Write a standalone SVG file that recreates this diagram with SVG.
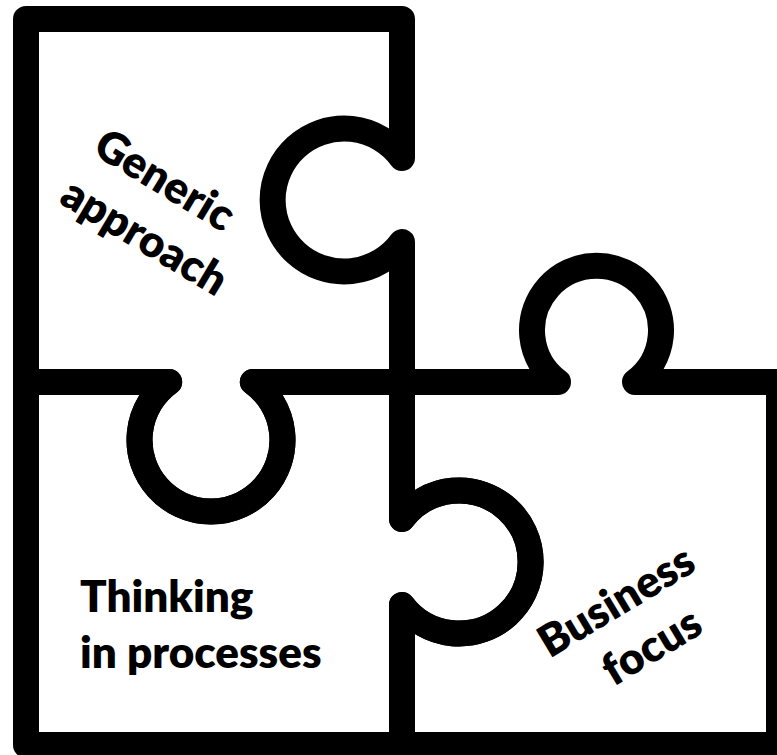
<svg xmlns="http://www.w3.org/2000/svg" width="777" height="755" viewBox="0 0 777 755">
<style>
.piece{fill:none;stroke:#000;stroke-width:26;stroke-linejoin:round;stroke-linecap:round}
.lbl{font-family:Lato,"Liberation Sans",sans-serif;font-weight:800;font-size:44px;fill:#000}
</style>
<rect width="777" height="755" fill="#fff"/>
<g id="connectors"></g>
<g id="piece-top-left">
<path class="piece" d="M26,19 H402 V158 A71.5,71.5 0 1 0 402,242 V382 H252.8 A71.5,71.5 0 1 1 169.2,382 H26 Z"/>
<g transform="translate(157,193) rotate(31)">
<text class="lbl" text-anchor="middle" x="0" y="0">Generic</text>
<text class="lbl" text-anchor="middle" x="12" y="59">approach</text>
</g>
</g>
<g id="piece-bottom-left">
<path class="piece" d="M26,382 H169.2 A71.5,71.5 0 1 0 252.8,382 H402 V519 A71.5,71.5 0 1 1 402,605 V745 H26 Z"/>
<text class="lbl" x="80" y="612">Thinking</text>
<text class="lbl" x="80" y="668">in processes</text>
</g>
<g id="piece-bottom-right">
<path class="piece" d="M402,382 H558 A64.5,64.5 0 1 1 635,382 H779 V745 H402 V605 A71.5,71.5 0 1 0 402,519 Z"/>
<g transform="translate(624,614) rotate(-31)">
<text class="lbl" text-anchor="middle" x="0" y="0">Business</text>
<text class="lbl" text-anchor="middle" x="7" y="57">focus</text>
</g>
</g>
</svg>
